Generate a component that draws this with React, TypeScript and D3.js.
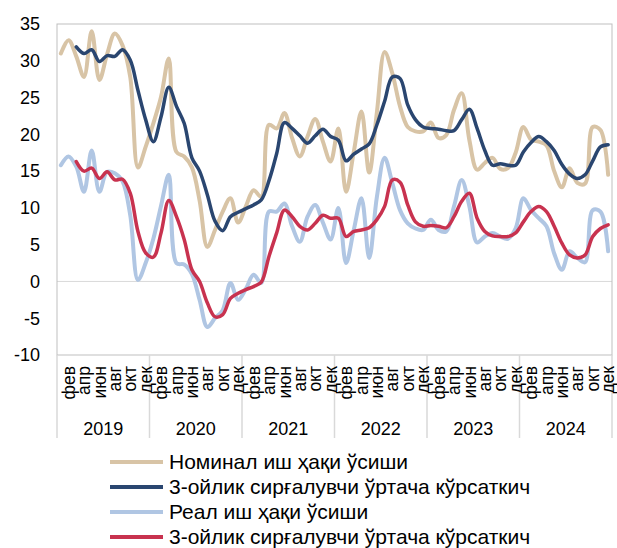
import React, { useEffect, useRef } from 'react';
import * as d3 from 'd3';

const YEARS = ['2019', '2020', '2021', '2022', '2023', '2024'];
const MONTHS = ['янв', 'фев', 'мар', 'апр', 'май', 'июн', 'июл', 'авг', 'сен', 'окт', 'ноя', 'дек'];
const Y_TICKS = [35, 30, 25, 20, 15, 10, 5, 0, -5, -10];

// номинал иш ҳақи ўсиши, %
const nominal = [
  31.0, 32.8, 30.6, 27.8, 34.0, 27.4, 30.9, 33.7, 32.1, 27.8, 15.5, 18.3,
  21.5, 25.1, 30.3, 17.6, 17.0, 15.5, 11.0, 4.7, 7.0, 9.5, 11.3, 8.0,
  10.2, 12.4, 11.5, 21.3, 20.8, 22.9, 19.5, 17.0, 19.7, 22.1, 19.0, 16.3,
  20.8, 12.2, 17.6, 23.1, 14.8, 23.0, 31.2, 28.3, 23.8, 21.0, 20.4, 20.4,
  21.6, 19.5, 19.9, 23.3, 25.6, 19.2, 15.2, 16.1, 16.8, 15.3, 15.4, 17.5,
  21.0, 19.3, 19.0, 18.5, 15.0, 12.8, 15.4, 13.4, 13.3, 21.0, 20.6, 14.5,
];
const nominalMA = [
  null, null, 31.9, 31.0, 31.5, 29.9, 30.7, 30.6, 31.5, 30.1, 26.0, 22.0,
  19.0, 22.4, 26.4, 23.8, 21.5, 16.8, 15.0, 11.8, 8.2, 6.9, 8.8, 9.4,
  9.9, 10.4, 11.1, 13.7, 17.4, 21.6, 20.8, 19.8, 18.8, 19.8, 20.7, 19.7,
  19.2, 16.4, 17.3, 18.0, 18.7, 21.3, 24.5, 27.8, 27.6, 24.0, 22.0, 21.0,
  20.8, 20.7, 20.5, 20.5, 22.0, 23.4, 20.8, 17.8, 15.8, 16.0, 15.8, 15.8,
  17.6, 18.9, 19.7, 19.0, 17.8, 15.9, 14.6, 14.0, 14.5, 16.4, 18.3, 18.6,
];
// реал иш ҳақи ўсиши, %
const real = [
  15.8, 17.0, 15.6, 12.2, 17.8, 12.2, 14.9, 14.7, 13.6, 9.0, 0.2, 2.5,
  5.8, 10.3, 14.5, 2.5, 2.3, 1.0, -2.5, -6.2, -5.0, -3.9, -0.2, -2.5,
  -1.0, 0.9, -0.2, 9.5, 9.5, 10.6, 7.5, 5.4, 8.8, 10.4, 8.0, 5.7,
  10.0, 2.5, 7.0, 11.3, 3.2, 11.5, 16.8, 13.4, 9.7, 7.9, 7.2, 7.0,
  8.4, 7.0, 6.8, 10.2, 13.8, 10.2, 5.3, 6.1, 6.6, 6.1, 5.8, 7.2,
  11.3, 9.7, 8.6, 7.5, 3.8, 1.6, 4.1, 3.2, 2.6, 9.7, 9.5, 4.1,
];
const realMA = [
  null, null, 16.3, 15.0, 15.4, 14.0, 14.9, 13.8, 13.9, 12.0, 6.8, 3.9,
  3.3, 6.6, 11.0, 8.8, 5.7, 1.6, 0.0, -2.9, -4.8, -4.5, -2.3, -1.6,
  -1.1, -0.7, -0.1, 3.4, 6.6, 9.7, 8.8, 7.5, 7.0, 7.9, 9.0, 8.6,
  8.6, 6.1, 6.8, 7.0, 7.3, 8.4, 10.2, 13.8, 13.5, 10.4, 8.1, 7.5,
  7.6, 7.5, 7.3, 8.8, 10.9, 12.0, 8.6, 6.8, 6.2, 6.1, 6.1, 6.6,
  8.1, 9.5, 10.2, 9.5, 7.5, 5.2, 3.6, 3.2, 3.6, 6.1, 7.2, 7.7,
];

const SERIES = [
  { name: 'Номинал иш ҳақи ўсиши', values: nominal, color: '#d8c4a6', width: 4 },
  { name: '3-ойлик сирғалувчи ўртача кўрсаткич', values: nominalMA, color: '#2a4670', width: 3.5 },
  { name: 'Реал иш ҳақи ўсиши', values: real, color: '#b0c6e3', width: 4 },
  { name: '3-ойлик сирғалувчи ўртача кўрсаткич', values: realMA, color: '#c8324f', width: 3.5 },
];

const FONT = '"Liberation Sans", Arial, sans-serif';

export default function App() {
  const svgRef = useRef<SVGSVGElement>(null);

  useEffect(() => {
    if (!svgRef.current) return;
    const svg = d3.select(svgRef.current);
    svg.selectAll('*').remove();

    const left = 57, right = 612, top = 24, bottom = 355;
    const n = YEARS.length * 12;

    const x = d3.scaleBand<number>().domain(d3.range(n)).range([left, right]).padding(0);
    const cx = (i: number) => (x(i) as number) + x.bandwidth() / 2;
    const y = d3.scaleLinear().domain([-10, 35]).range([bottom, top]);

    // zero grid line
    svg.append('line')
      .attr('x1', left).attr('x2', right)
      .attr('y1', y(0)).attr('y2', y(0))
      .attr('stroke', '#d9d9d9').attr('stroke-width', 1);

    // frame
    svg.append('rect')
      .attr('x', left).attr('y', top)
      .attr('width', right - left).attr('height', bottom - top)
      .attr('fill', 'none').attr('stroke', '#bfbfbf').attr('stroke-width', 1);

    // y labels
    svg.append('g').selectAll('text')
      .data(Y_TICKS)
      .enter().append('text')
      .attr('x', 40).attr('y', (d) => y(d)).attr('dy', '0.35em')
      .attr('text-anchor', 'end')
      .attr('font-family', FONT).attr('font-size', 18).attr('fill', '#000')
      .text((d) => d);

    // year separators
    const seps = d3.range(YEARS.length + 1).map((k) => left + k * 12 * x.bandwidth());
    svg.append('g').selectAll('line')
      .data(seps)
      .enter().append('line')
      .attr('x1', (d) => d).attr('x2', (d) => d)
      .attr('y1', bottom).attr('y2', 438)
      .attr('stroke', '#d9d9d9').attr('stroke-width', 1.5);

    // month labels (every second month)
    const monthIdx = d3.range(n).filter((i) => i % 2 === 1);
    svg.append('g').selectAll('text')
      .data(monthIdx)
      .enter().append('text')
      .attr('transform', (i) => `translate(${cx(i)},${bottom + 11}) rotate(-90)`)
      .attr('dy', '0.35em')
      .attr('text-anchor', 'end')
      .attr('font-family', FONT).attr('font-size', 17.5).attr('fill', '#000')
      .text((i) => MONTHS[i % 12]);

    // year labels
    svg.append('g').selectAll('text')
      .data(YEARS)
      .enter().append('text')
      .attr('x', (_, k) => (seps[k] + seps[k + 1]) / 2)
      .attr('y', 435)
      .attr('text-anchor', 'middle')
      .attr('font-family', FONT).attr('font-size', 18).attr('fill', '#000')
      .text((d) => d);

    const line = d3.line<number | null>()
      .defined((d) => d !== null)
      .x((_, i) => cx(i))
      .y((d) => y(d as number))
      .curve(d3.curveCatmullRom.alpha(0.5));

    svg.append('g').selectAll('path')
      .data(SERIES)
      .enter().append('path')
      .attr('d', (s) => line(s.values))
      .attr('fill', 'none')
      .attr('stroke', (s) => s.color)
      .attr('stroke-width', (s) => s.width)
      .attr('stroke-linejoin', 'round')
      .attr('stroke-linecap', 'round');

    // legend
    const lg = svg.append('g').selectAll('g')
      .data(SERIES)
      .enter().append('g')
      .attr('transform', (_, k) => `translate(110,${462 + k * 25})`);
    lg.append('line')
      .attr('x1', 0).attr('x2', 53)
      .attr('stroke', (s) => s.color).attr('stroke-width', 4);
    lg.append('text')
      .attr('x', 59).attr('y', 7)
      .attr('font-family', FONT).attr('font-size', 21).attr('fill', '#000')
      .text((s) => s.name);
  }, []);

  return (
    <svg
      ref={svgRef}
      width={617}
      height={548}
      style={{ position: 'absolute', left: 0, top: 0, background: '#fff' }}
    />
  );
}
